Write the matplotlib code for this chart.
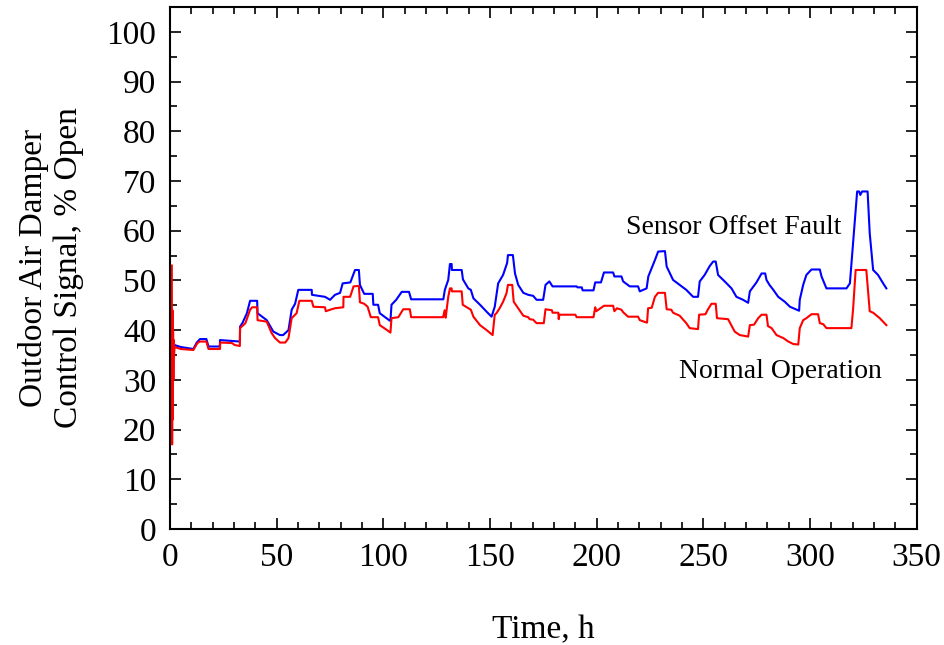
import matplotlib.pyplot as plt
from matplotlib.ticker import MultipleLocator

plt.rcParams['font.family'] = ['Liberation Serif', 'DejaVu Serif']

# Sensor offset fault (blue): hour, % open
fault_h = [0.8, 1.0, 1.2, 1.4, 1.6, 2.0, 5, 10.9, 12.5, 14, 17, 18, 18.1, 23.3, 23.4, 32.7,
           32.8, 34, 36, 37.5, 40.8, 41, 45.3, 48.4, 51.5, 53, 55.5, 57, 58.6, 60.1, 66.4,
           66.5, 72.6, 75, 77.3, 79.7, 80.9, 84.5, 86.7, 88.5, 89, 91, 95, 95.3, 97.5, 98.3,
           103, 103.3, 103.8, 106, 108.6, 112, 113, 128.1, 128.8, 130.4, 131.2, 132, 132.1,
           136.7, 137.3, 139.8, 141, 142.2, 145.3, 148.4, 150.7, 152.2, 153.8, 156.1, 158,
           158.4, 160.7, 161.7, 163.2, 165.6, 167.9, 170.2, 171.8, 174.9, 176, 177.8, 179.3,
           190.6, 191, 193, 193.4, 198.5, 199.3, 202, 203.4, 207.7, 208.3, 211.6, 212.4,
           215.5, 219.4, 220.2, 223.4, 224.2, 227.3, 228.8, 232, 232.8, 235.8, 238.9, 242,
           245.2, 247.5, 248.3, 250.6, 253, 254.6, 255.8, 256.9, 260, 263.2, 265.5, 268.6,
           271, 271.8, 274.9, 277.3, 279, 279.6, 281, 282.8, 285.1, 288.2, 290.6, 294.9,
           295.2, 296.8, 298.3, 300.7, 304.6, 305.4, 307.7, 317.1, 318.7, 320.2, 322.1,
           323, 323.6, 324.4, 325.7, 327, 328, 329.6, 331.9, 334.3, 335.8]
fault_v = [37, 33, 38, 35, 37.5, 37, 36.6, 36.2, 37.5, 38.2, 38.2, 36.7, 36.7, 36.7, 38.0, 37.7,
           40.7, 41.5, 43.4, 45.9, 45.9, 43.4, 42.0, 39.7, 39.0, 39.0, 40.0, 44.1, 45.3, 48.1, 48.1,
           47.1, 46.7, 46.1, 47.1, 47.5, 49.4, 49.6, 52.1, 52.1, 49.1, 47.3, 47.3, 45.1, 45.1, 43.4,
           41.9, 41.9, 45.1, 46.1, 47.7, 47.7, 46.2, 46.2, 48.1, 50.1, 53.3, 53.3, 52.1,
           52.1, 50.2, 48.4, 48.1, 46.4, 45.1, 43.7, 42.7, 44.7, 49.4, 51.1, 53.5,
           55.1, 55.1, 51.4, 49.1, 47.5, 47.1, 46.9, 46.1, 46.1, 49.1, 49.8, 48.8,
           48.8, 48.6, 48.6, 48.0, 48.0, 49.6, 49.6, 51.6, 51.6, 50.8, 50.8, 49.8,
           48.8, 48.8, 47.8, 48.4, 50.8, 54.1, 55.8, 55.9, 52.8, 50.1, 49.1, 48.1,
           46.7, 46.7, 49.8, 51.1, 52.9, 53.8, 53.8, 51.1, 49.8, 48.4, 46.7, 46.1,
           45.5, 47.8, 49.6, 51.4, 51.4, 50.1, 49.1, 48.1, 46.7, 45.7, 44.7, 43.9,
           46.1, 49.1, 51.1, 52.2, 52.2, 50.8, 48.4, 48.4, 49.4, 57.5, 67.9,
           67.9, 67.2, 67.9, 67.9, 67.9, 59.5, 52.1, 51.1, 49.4, 48.4]

# Normal operation (red)
normal_h = [0.8, 0.95, 1.1, 1.25, 1.4, 1.55, 1.7, 1.85, 2.1, 5, 10.9, 12.8, 14, 17, 18, 18.1, 23.4,
            23.5, 29, 30.3, 32.7, 32.8, 35.3, 37.5, 38.5, 40.8, 41, 45.3, 47.6, 49.2, 51.5, 54,
            55.5, 57, 59.3, 60.6, 66.4, 67.2, 72.6, 73, 75, 77.3, 81.2, 81.3, 84.4, 86, 88.5,
            89, 91, 92.6, 94.1, 97.5, 98.3, 101.4, 103.3, 103.8, 107, 109.3, 112.4, 113, 128,
            128.7, 129.2, 130.4, 131.2, 132, 132.1, 136.7, 137.2, 139.8, 141, 142.2, 145.3,
            148.4, 151.2, 152.2, 153, 154.5, 156.1, 157.7, 158.4, 160.4, 161.1, 163.2, 165.6,
            167.9, 168.6, 170.2, 171.8, 175.2, 176, 179, 179.3, 182, 182.2, 182.5, 190.0,
            190.6, 198.5, 199.3, 199.8, 203.4, 207.7, 208.3, 209.5, 211.6, 212.4, 214.7,
            219.4, 220.2, 223.6, 224.1, 225.8, 227.3, 228.8, 232, 232.8, 235, 235.8, 238.9,
            242, 243.6, 247.5, 248, 251, 252.2, 253.8, 255.8, 256.4, 261.6, 264.7, 267.1,
            271, 271.8, 273.8, 275.7, 277.3, 279.6, 280.3, 282, 284.3, 287.5, 289.8, 292.2,
            294.5, 295.2, 296.8, 298.3, 300.7, 303.8, 304.6, 306.2, 307.7, 319.4, 320.2,
            321.4, 326.4, 328, 329.6, 332.7, 335.8]
normal_v = [53, 17, 44, 22, 40, 30, 38, 35, 36.6, 36.2, 36.0, 37.4, 37.7, 37.7, 36.2, 36.2, 36.2,
            37.5, 37.4, 37.0, 36.8, 40.4, 41.4, 44.1, 44.6, 44.6, 42.0, 41.7, 39.4, 38.4, 37.5, 37.5,
            38.4, 42.4, 43.4, 45.9, 45.9, 44.7, 44.6, 43.8, 44.1, 44.4, 44.6, 46.7, 46.7, 48.8, 48.9,
            45.6, 45.3, 44.7, 42.6, 42.6, 41.0, 40.1, 39.5, 42.4, 42.6, 44.2, 44.2, 42.6, 42.6,
            44.0, 42.5, 46.7, 48.4, 48.4, 47.8, 47.8, 45.1, 44.4, 44.1, 42.7, 41.0,
            40.0, 39.0, 43.1, 43.4, 44.4, 45.7, 47.4, 49.1, 49.1, 45.7, 44.4, 42.9,
            42.6, 42.2, 42.1, 41.4, 41.4, 44.2, 44.0, 43.5, 43.5, 42.2, 43.1, 43.1,
            42.6, 42.6, 44.6, 43.8, 44.9, 44.9, 43.8, 44.4, 44.1, 43.6, 42.7,
            42.7, 42.0, 41.5, 44.4, 44.5, 46.7, 47.5, 47.5, 44.2, 44.1, 43.5, 42.9,
            41.4, 40.4, 40.2, 43.1, 43.2, 44.2, 45.3, 45.3, 42.4, 42.2, 39.7, 39.0,
            38.7, 41.0, 41.1, 42.4, 43.1, 43.1, 40.8, 40.4, 39.0, 38.4, 37.7, 37.2,
            37.1, 40.4, 42.0, 42.4, 43.2, 43.2, 41.4, 41.2, 40.4, 40.4, 44.2,
            52.1, 52.1, 43.8, 43.5, 42.4, 41.0]

fig = plt.figure(figsize=(9.45, 6.45), dpi=100)
ax = fig.add_axes([0.180, 0.180, 0.790, 0.809])

ax.plot(fault_h, fault_v, color='blue', lw=1.5)
ax.plot(normal_h, normal_v, color='red', lw=1.5)

ax.text(264, 60.6, 'Sensor Offset Fault', fontsize=20, ha='center', va='center')
ax.text(286, 31.6, 'Normal Operation', fontsize=20, ha='center', va='center')

ax.set_xlim(0, 350)
ax.set_ylim(0, 105)
ax.xaxis.set_major_locator(MultipleLocator(50))
ax.xaxis.set_minor_locator(MultipleLocator(10))
ax.yaxis.set_major_locator(MultipleLocator(10))
ax.yaxis.set_minor_locator(MultipleLocator(5))
ax.tick_params(which='both', direction='in', top=True, right=True, labelsize=24, width=1.2)
ax.tick_params(which='major', length=8, pad=10)
ax.tick_params(which='minor', length=5)
for sp in ax.spines.values():
    sp.set_linewidth(1.5)

ax.set_xlabel('Time, h', fontsize=24, labelpad=30)
ax.set_ylabel('Outdoor Air Damper\nControl Signal, % Open', fontsize=24, labelpad=16)

fig.savefig('out.png', dpi=100)
